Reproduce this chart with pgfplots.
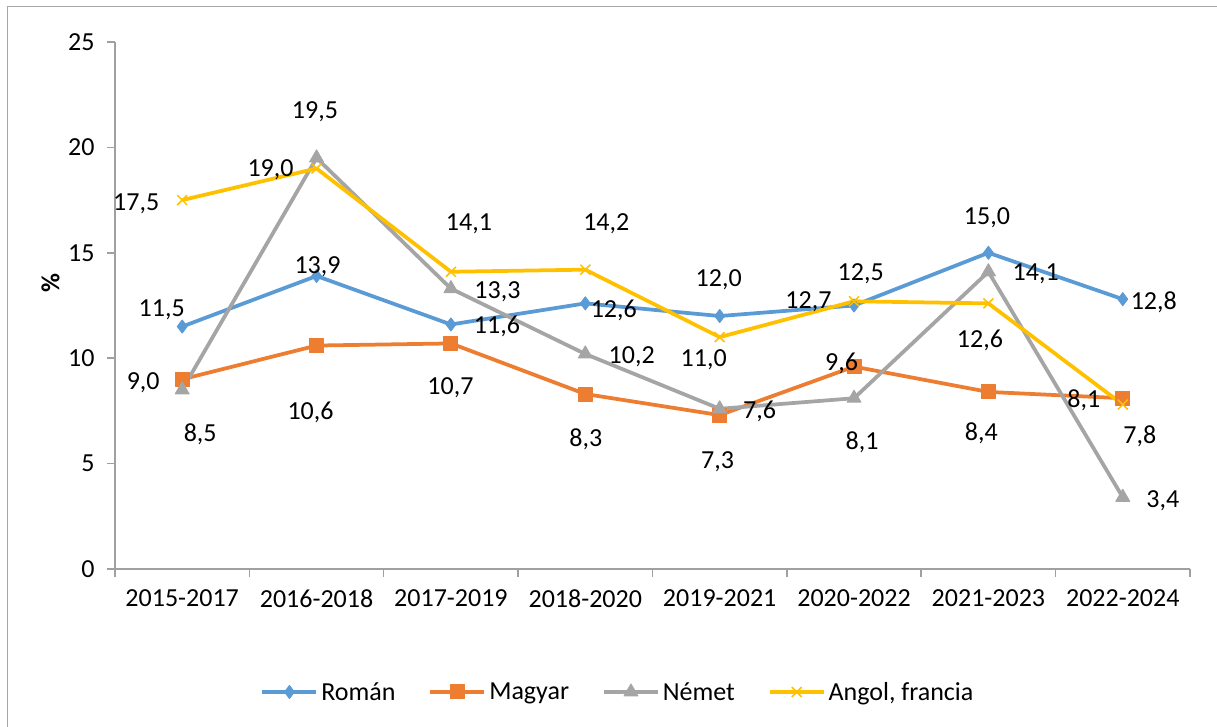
\documentclass[border=0pt]{standalone}
\usepackage{fontspec}
\setmainfont{Carlito}
\usepackage{pgfplots}
\pgfplotsset{compat=1.18}
\definecolor{cRoman}{HTML}{5B9BD5}
\definecolor{cMagyar}{HTML}{ED7D31}
\definecolor{cNemet}{HTML}{A5A5A5}
\definecolor{cAngol}{HTML}{FFC000}
\definecolor{axisgray}{HTML}{A0A0A0}
\definecolor{framegray}{HTML}{A6A6A6}
\newcommand{\bigf}{\fontsize{26}{31}\selectfont}
\begin{document}
\begin{tikzpicture}[x=1pt,y=1pt]
\path[use as bounding box] (0,0) rectangle (1217,727);
\draw[framegray, line width=1.5pt] (7.7,0) -- (7.7,720.3) -- (1217,720.3);
\begin{axis}[
  at={(115pt,158pt)}, anchor=south west,
  scale only axis, width=1075pt, height=527pt,
  xmin=-0.5, xmax=7.5, ymin=0, ymax=25,
  axis x line=bottom, axis y line=left,
  axis line style={-, draw=axisgray, line width=1.5pt},
  tick style={draw=axisgray, line width=1.5pt},
  tick align=outside, major tick length=8pt,
  xtick={-0.5,0.5,...,7.5},
  x tick label as interval,
  xticklabels={2015-2017,2016-2018,2017-2019,2018-2020,2019-2021,2020-2022,2021-2023,2022-2024},
  ytick={0,5,...,25},
  /pgf/number format/assume math mode=true,
  tick label style={font=\bigf, text=black},
  yticklabel style={xshift=-9pt},
  xticklabel style={yshift=-9pt},
  ylabel={\textbf{\%}},
  ylabel style={at={(axis description cs:-0.06,0.5433)}, anchor=center, font=\bigf},
  clip=false,
  legend columns=4,
  legend style={draw=none, fill=none, font=\bigf, at={(axis description cs:0.4684,-0.2334)}, anchor=center,
    /tikz/every even column/.append style={column sep=30pt},
    nodes={inner sep=3pt}},
  legend image code/.code={\draw[mark repeat=2,mark phase=2] plot coordinates {(0pt,0pt) (27pt,0pt) (54pt,0pt)};},
  point meta=explicit symbolic,
  visualization depends on={\thisrow{dx}\as\dx},
  visualization depends on={\thisrow{dy}\as\dy},
  nodes near coords,
  every node near coord/.append style={font=\bigf, text=black, anchor=center, xshift={\dx*1pt}, yshift={\dy*1pt}, text depth=0pt},
  every axis plot/.append style={line width=3.75pt, line join=round},
]
\addplot[cRoman, mark=diamond*, mark size=6.5pt, mark options={solid, line width=1pt}] table[x=x,y=y,meta=lab]{
x y dx dy lab
0 11.5 -20.5 18.6 11,5
1 13.9 1 11.3 13,9
2 11.6 46 -0.5 11,6
3 12.6 28.5 -5 12,6
4 12.0 -1 37.7 12,0
5 12.5 6.7 33.5 12,5
6 15.0 -1.5 36.7 15,0
7 12.8 31 -1 12,8
};
\addlegendentry{Román}
\addplot[cMagyar, mark=square*, mark size=7pt, mark options={solid, line width=1pt}] table[x=x,y=y,meta=lab]{
x y dx dy lab
0 9.0 -39 -1.7 9,0
1 10.6 -6 -65 10,6
2 10.7 -0.5 -42.6 10,7
3 8.3 0.5 -43.7 8,3
4 7.3 -2 -45 7,3
5 9.6 -12.4 5 9,6
6 8.4 -7 -39.7 8,4
7 8.1 -39 0 8,1
};
\addlegendentry{Magyar}
\addplot[cNemet, mark=triangle*, mark size=8pt, mark options={solid, line width=1pt}] table[x=x,y=y,meta=lab]{
x y dx dy lab
0 8.5 18 -43 8,5
1 19.5 -1.6 47.5 19,5
2 13.3 46.5 -1 13,3
3 10.2 46.4 -1 10,2
4 7.6 40 -1 7,6
5 8.1 8 -42.7 8,1
6 14.1 47.3 -0.7 14,1
7 3.4 40 -1.4 3,4
};
\addlegendentry{Német}
\addplot[cAngol, mark=x, mark size=7pt, mark options={solid, line width=1.5pt}] table[x=x,y=y,meta=lab]{
x y dx dy lab
0 17.5 -46 -1.6 17,5
1 19.0 -46 0 19,0
2 14.1 18 50 14,1
3 14.2 21 47.7 14,2
4 11.0 -16 -20.6 11,0
5 12.7 -45.6 1 12,7
6 12.6 -8.5 -35.6 12,6
7 7.8 17 -30.4 7,8
};
\addlegendentry{Angol, francia}
\end{axis}
\end{tikzpicture}
\end{document}
